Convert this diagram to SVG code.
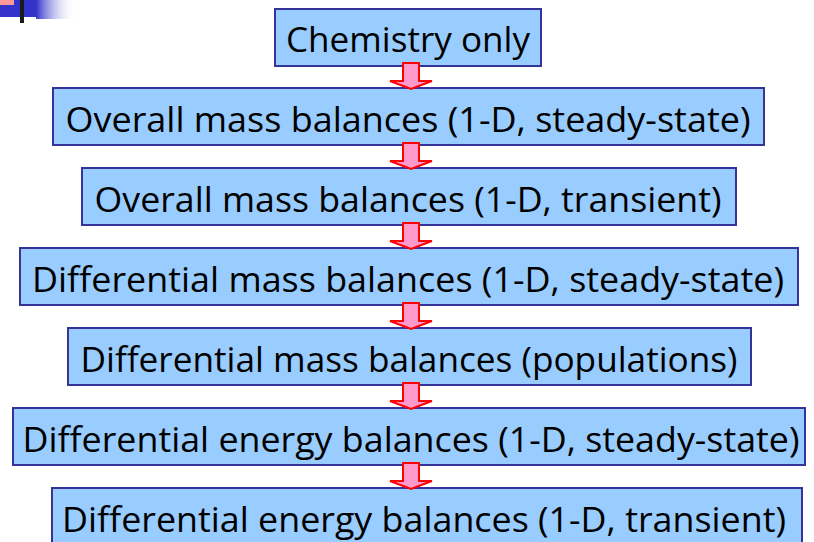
<svg xmlns="http://www.w3.org/2000/svg" xmlns:xlink="http://www.w3.org/1999/xlink" width="814" height="542" viewBox="0 0 814 542">
<style>
.box{fill:#99ccff;stroke:#333399;stroke-width:2}
.lbl{font-family:"Open Sans","DejaVu Sans",sans-serif;font-size:35px;fill:#000;text-anchor:middle}
.arr{fill:#ff99cc;stroke:#ff0000;stroke-width:2;stroke-linejoin:miter}
</style>
<defs>
<linearGradient id="fade" x1="0" y1="0" x2="1" y2="0">
<stop offset="0" stop-color="#3333cc"/>
<stop offset="1" stop-color="#ffffff" stop-opacity="0"/>
</linearGradient>
<path id="arrow" class="arr" d="M403,0 H419 V18 H432 L411,26 L390,18 H403 Z"/>
</defs>
<rect width="814" height="542" fill="#ffffff"/>
<g id="logo">
<rect x="0" y="0" width="36" height="17" fill="#3333cc"/>
<rect x="36" y="0" width="40" height="19" fill="url(#fade)"/>
<rect x="0" y="0" width="14" height="5" fill="#ff9999"/>
<rect x="20" y="0" width="4" height="23" fill="#1a1a1a"/>
</g>
<g id="n1"><rect class="box" x="275" y="9" width="266" height="57"/><text class="lbl" x="408" y="52" textLength="244" lengthAdjust="spacingAndGlyphs">Chemistry only</text></g>
<g id="n2"><rect class="box" x="53" y="88" width="711" height="57"/><text class="lbl" x="408" y="132" textLength="685" lengthAdjust="spacingAndGlyphs">Overall mass balances (1-D, steady-state)</text></g>
<g id="n3"><rect class="box" x="82" y="168" width="654" height="57"/><text class="lbl" x="408" y="212" textLength="627" lengthAdjust="spacingAndGlyphs">Overall mass balances (1-D, transient)</text></g>
<g id="n4"><rect class="box" x="20" y="248" width="778" height="57"/><text class="lbl" x="408" y="292" textLength="752" lengthAdjust="spacingAndGlyphs">Differential mass balances (1-D, steady-state)</text></g>
<g id="n5"><rect class="box" x="68" y="328" width="683" height="57"/><text class="lbl" x="409" y="372" textLength="657" lengthAdjust="spacingAndGlyphs">Differential mass balances (populations)</text></g>
<g id="n6"><rect class="box" x="13" y="408" width="792" height="57"/><text class="lbl" x="411" y="452" textLength="777" lengthAdjust="spacingAndGlyphs">Differential energy balances (1-D, steady-state)</text></g>
<g id="n7"><rect class="box" x="52" y="488" width="750" height="60"/><text class="lbl" x="424" y="532" textLength="724" lengthAdjust="spacingAndGlyphs">Differential energy balances (1-D, transient)</text></g>
<g id="connectors">
<use xlink:href="#arrow" transform="translate(0,63)"/>
<use xlink:href="#arrow" transform="translate(0,143)"/>
<use xlink:href="#arrow" transform="translate(0,223)"/>
<use xlink:href="#arrow" transform="translate(0,303)"/>
<use xlink:href="#arrow" transform="translate(0,383)"/>
<use xlink:href="#arrow" transform="translate(0,463)"/>
</g>
</svg>
